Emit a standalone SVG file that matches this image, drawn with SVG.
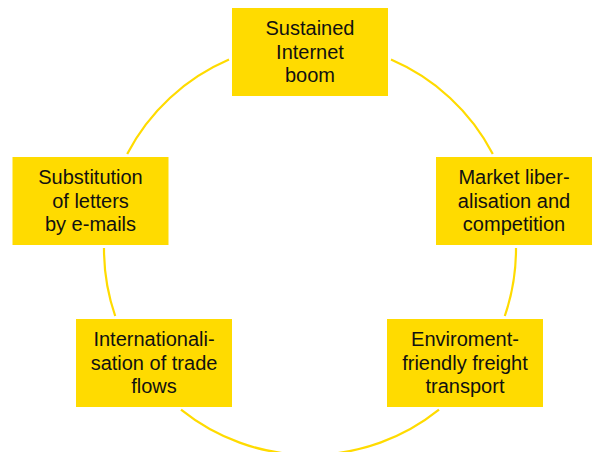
<svg xmlns="http://www.w3.org/2000/svg" width="592" height="452" viewBox="0 0 592 452">
<style>
.box{fill:#FFDB00}
.lbl{font-family:"Liberation Sans",Arial,Helvetica,sans-serif;font-size:20px;fill:#111;text-anchor:middle}
.arc{fill:none;stroke:#FFDB00;stroke-width:2.2}
</style>
<rect width="592" height="452" fill="#fff"/>
<g id="connectors">
<path class="arc" d="M391,59.6 A206,206 0 0 1 492.8,154"/>
<path class="arc" d="M516,248 A206,206 0 0 1 504.8,316"/>
<path class="arc" d="M439,409.6 A206,206 0 0 1 181,409.6"/>
<path class="arc" d="M115.2,316 A206,206 0 0 1 104,248"/>
<path class="arc" d="M127.2,154 A206,206 0 0 1 229,59.6"/>
</g>
<g id="n-internet">
<rect class="box" x="232" y="8" width="156" height="88"/>
<text class="lbl" x="310" y="35.3">Sustained</text>
<text class="lbl" x="310" y="58.7">Internet</text>
<text class="lbl" x="310" y="82.1">boom</text>
</g>
<g id="n-market">
<rect class="box" x="436" y="157" width="156" height="88"/>
<text class="lbl" x="514" y="184.3">Market liber-</text>
<text class="lbl" x="514" y="207.7">alisation and</text>
<text class="lbl" x="514" y="231.1">competition</text>
</g>
<g id="n-freight">
<rect class="box" x="387" y="319" width="156" height="88"/>
<text class="lbl" x="465" y="346.3">Enviroment-</text>
<text class="lbl" x="465" y="369.7">friendly freight</text>
<text class="lbl" x="465" y="393.1">transport</text>
</g>
<g id="n-trade">
<rect class="box" x="76" y="319" width="156" height="88"/>
<text class="lbl" x="154" y="346.3">Internationali-</text>
<text class="lbl" x="154" y="369.7">sation of trade</text>
<text class="lbl" x="154" y="393.1">flows</text>
</g>
<g id="n-letters">
<rect class="box" x="12.5" y="157" width="156" height="88"/>
<text class="lbl" x="90.5" y="184.3">Substitution</text>
<text class="lbl" x="90.5" y="207.7">of letters</text>
<text class="lbl" x="90.5" y="231.1">by e-mails</text>
</g>
</svg>
